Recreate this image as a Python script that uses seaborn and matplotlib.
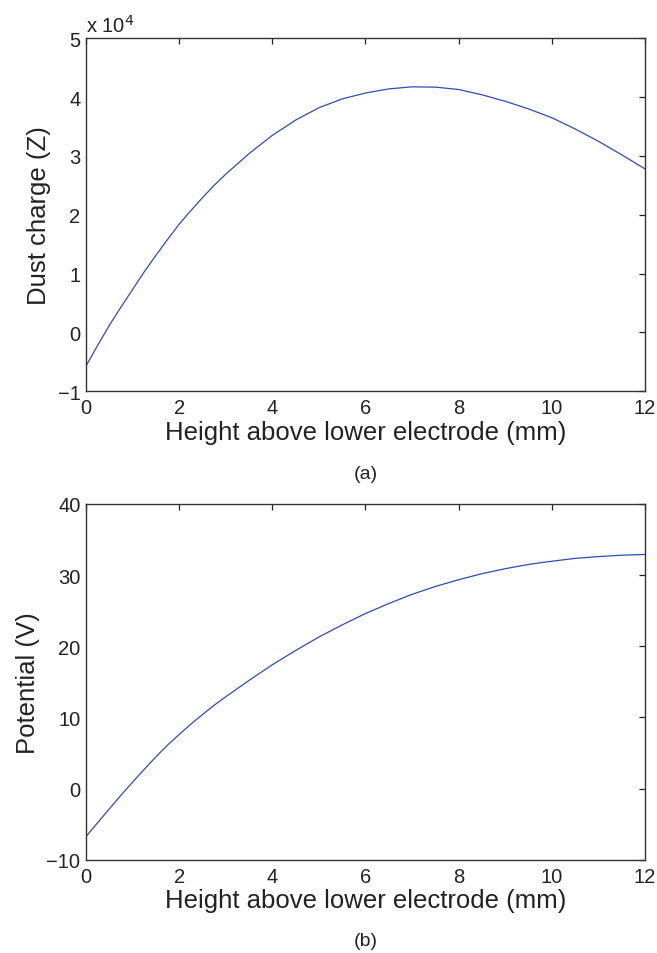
import numpy as np
import pandas as pd
import seaborn as sns
import matplotlib
matplotlib.use('Agg')
import matplotlib.pyplot as plt
import matplotlib.ticker as ticker

# Altura sobre el electrodo inferior (mm)
altura = [0, 0.25, 0.5, 0.75, 1, 1.25, 1.5, 1.75, 2, 2.25, 2.5, 2.75, 3,
          3.5, 4, 4.5, 5, 5.5, 6, 6.5, 7, 7.5, 8, 8.5, 9, 9.5, 10, 10.5, 11, 11.5, 12]

carga_e4 = [-0.57, -0.22, 0.12, 0.43, 0.73, 1.03, 1.31, 1.58, 1.84, 2.07, 2.29, 2.50, 2.69,
            3.04, 3.35, 3.61, 3.82, 3.97, 4.07, 4.14, 4.175, 4.17, 4.13, 4.04, 3.93, 3.80,
            3.65, 3.46, 3.25, 3.02, 2.78]
carga = [c * 1e4 for c in carga_e4]

# Potencial (V)
potencial = [-6.75, -4.8, -2.85, -0.95, 0.9, 2.7, 4.45, 6.1, 7.6, 9.05, 10.4, 11.7, 12.9,
             15.2, 17.4, 19.4, 21.3, 23.0, 24.6, 26.0, 27.3, 28.4, 29.35, 30.2, 30.9, 31.5,
             31.95, 32.35, 32.6, 32.8, 32.9]

xticks = [0, 2, 4, 6, 8, 10, 12]
yticks_a = [-1, 0, 1, 2, 3, 4, 5]
yticks_b = [-10, 0, 10, 20, 30, 40]

df = pd.DataFrame({'altura': altura, 'carga': carga, 'potencial': potencial})

sns.set_style('white')
plt.rcParams['font.family'] = ['Liberation Sans', 'DejaVu Sans']

color_linea = '#2b4db5'
color_texto = '#222222'

fig = plt.figure(figsize=(6.57, 9.54), dpi=100)
ax_a = fig.add_axes([0.1309, 0.5888, 0.8508, 0.370])
ax_b = fig.add_axes([0.1309, 0.0978, 0.8508, 0.3729])


def estilo_matlab(ax):
    ax.tick_params(direction='in', top=True, right=True, length=4, width=0.9,
                   labelsize=14.5, colors=color_texto)
    ax.tick_params(axis='x', pad=5)
    ax.tick_params(axis='y', pad=4)
    for s in ax.spines.values():
        s.set_linewidth(1.0)
        s.set_color('#333333')
        s.set_visible(True)
    ax.set_xlim(0, 12)
    ax.set_xticks(xticks)
    ax.set_xlabel('Height above lower electrode (mm)', fontsize=18.5, color=color_texto, labelpad=2)


# (a) Carga del polvo
sns.lineplot(data=df, x='altura', y='carga', ax=ax_a, color=color_linea, linewidth=0.9)
estilo_matlab(ax_a)
ax_a.set_ylim(-1e4, 5e4)
ax_a.set_yticks([t * 1e4 for t in yticks_a])
ax_a.yaxis.set_major_formatter(ticker.FuncFormatter(lambda v, p: f"{v / 1e4:g}".replace('-', '\u2212')))
ax_a.set_ylabel('Dust charge (Z)', fontsize=18.5, color=color_texto, labelpad=5)
ax_a.text(0.0, 1.006, 'x 10$^{4}$', transform=ax_a.transAxes, fontsize=14.5,
          color=color_texto, ha='left', va='bottom')
fig.text(0.5565, 0.5025, '(a)', fontsize=14, color=color_texto, ha='center', va='center')

# (b) Potencial
sns.lineplot(data=df, x='altura', y='potencial', ax=ax_b, color=color_linea, linewidth=0.9)
estilo_matlab(ax_b)
ax_b.set_ylim(-10, 40)
ax_b.set_yticks(yticks_b)
ax_b.yaxis.set_major_formatter(ticker.FuncFormatter(lambda v, p: f"{v:g}".replace('-', '\u2212')))
ax_b.set_ylabel('Potential (V)', fontsize=18.5, color=color_texto, labelpad=5)
fig.text(0.5565, 0.0136, '(b)', fontsize=14, color=color_texto, ha='center', va='center')

plt.savefig('out.png', dpi=100)
